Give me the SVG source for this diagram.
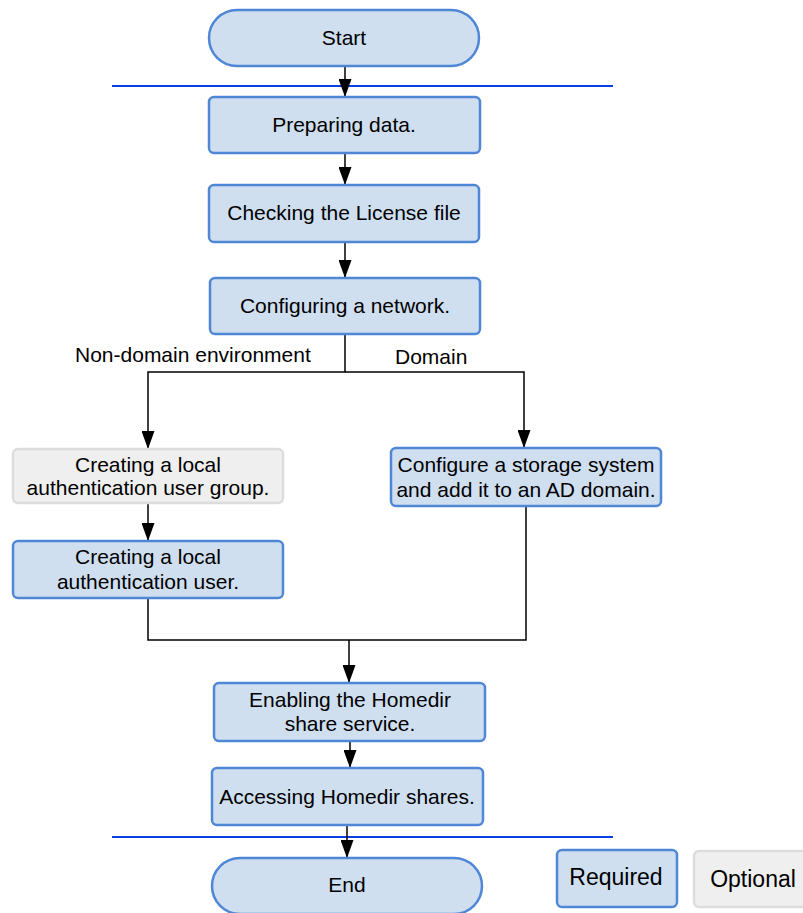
<svg xmlns="http://www.w3.org/2000/svg" width="803" height="913" viewBox="0 0 803 913">
<style>
.req{fill:#cfdff0;stroke:#4f87d6;stroke-width:2.5}
.opt{fill:#efefef;stroke:#dcdcdc;stroke-width:2.5}
text{font-family:"Liberation Sans",Arial,sans-serif;font-size:21px;fill:#000;text-anchor:middle}
.lbl{text-anchor:start;font-size:21px}
.leg{font-size:23px}
.ln{fill:none;stroke:#000;stroke-width:1.5}
.sep{stroke:#0a3fe6;stroke-width:1.8}
</style>
<defs>
<marker id="a" markerWidth="18" markerHeight="13" refX="18" refY="6.5" orient="auto" markerUnits="userSpaceOnUse" viewBox="0 0 18 13">
<path d="M0,0 L18,6.5 L0,13 Z" fill="#000"/>
</marker>
</defs>
<g id="separators">
<line class="sep" x1="112" y1="86" x2="613" y2="86"/>
<line class="sep" x1="112" y1="837" x2="613" y2="837"/>
</g>
<g id="connectors">
<line class="ln" x1="345" y1="66" x2="345" y2="97" marker-end="url(#a)"/>
<line class="ln" x1="345" y1="153" x2="345" y2="185" marker-end="url(#a)"/>
<line class="ln" x1="345" y1="242" x2="345" y2="278" marker-end="url(#a)"/>
<polyline class="ln" points="345,334 345,372 148,372 148,449" marker-end="url(#a)"/>
<polyline class="ln" points="345,372 524,372 524,448" marker-end="url(#a)"/>
<line class="ln" x1="148" y1="503" x2="148" y2="541" marker-end="url(#a)"/>
<polyline class="ln" points="148,598 148,640 526,640 526,506"/>
<line class="ln" x1="349" y1="640" x2="349" y2="683" marker-end="url(#a)"/>
<line class="ln" x1="350" y1="741" x2="350" y2="768" marker-end="url(#a)"/>
<line class="ln" x1="347" y1="825" x2="347" y2="858" marker-end="url(#a)"/>
<text class="lbl" x="75" y="362">Non-domain environment</text>
<text class="lbl" x="395" y="364">Domain</text>
</g>
<g id="start">
<rect class="req" x="209" y="10" width="270" height="56" rx="28"/>
<text x="344" y="45">Start</text>
</g>
<g id="prep">
<rect class="req" x="209" y="97" width="271" height="56" rx="5"/>
<text x="344" y="132">Preparing data.</text>
</g>
<g id="license">
<rect class="req" x="209" y="185" width="270" height="57" rx="5"/>
<text x="344" y="220">Checking the License file</text>
</g>
<g id="network">
<rect class="req" x="210" y="278" width="270" height="56" rx="5"/>
<text x="345" y="313">Configuring a network.</text>
</g>
<g id="usergroup">
<rect class="opt" x="13" y="449" width="270" height="54" rx="5"/>
<text x="148" y="472">Creating a local</text>
<text x="148" y="495">authentication user group.</text>
</g>
<g id="user">
<rect class="req" x="13" y="541" width="270" height="57" rx="5"/>
<text x="148" y="564">Creating a local</text>
<text x="148" y="589">authentication user.</text>
</g>
<g id="addomain">
<rect class="req" x="391" y="448" width="270" height="58" rx="5"/>
<text x="526" y="472">Configure a storage system</text>
<text x="526" y="497">and add it to an AD domain.</text>
</g>
<g id="homedir">
<rect class="req" x="214" y="683" width="271" height="58" rx="5"/>
<text x="350" y="707">Enabling the Homedir</text>
<text x="350" y="731">share service.</text>
</g>
<g id="access">
<rect class="req" x="212" y="768" width="271" height="57" rx="5"/>
<text x="347" y="804">Accessing Homedir shares.</text>
</g>
<g id="end">
<rect class="req" x="212" y="858" width="270" height="56" rx="28"/>
<text x="347" y="892">End</text>
</g>
<g id="legend-required">
<rect class="req" x="557" y="850" width="120" height="57" rx="5"/>
<text class="leg" x="616" y="885">Required</text>
</g>
<g id="legend-optional">
<rect class="opt" x="694" y="851" width="120" height="56" rx="5"/>
<text class="leg" x="753" y="887">Optional</text>
</g>
</svg>
